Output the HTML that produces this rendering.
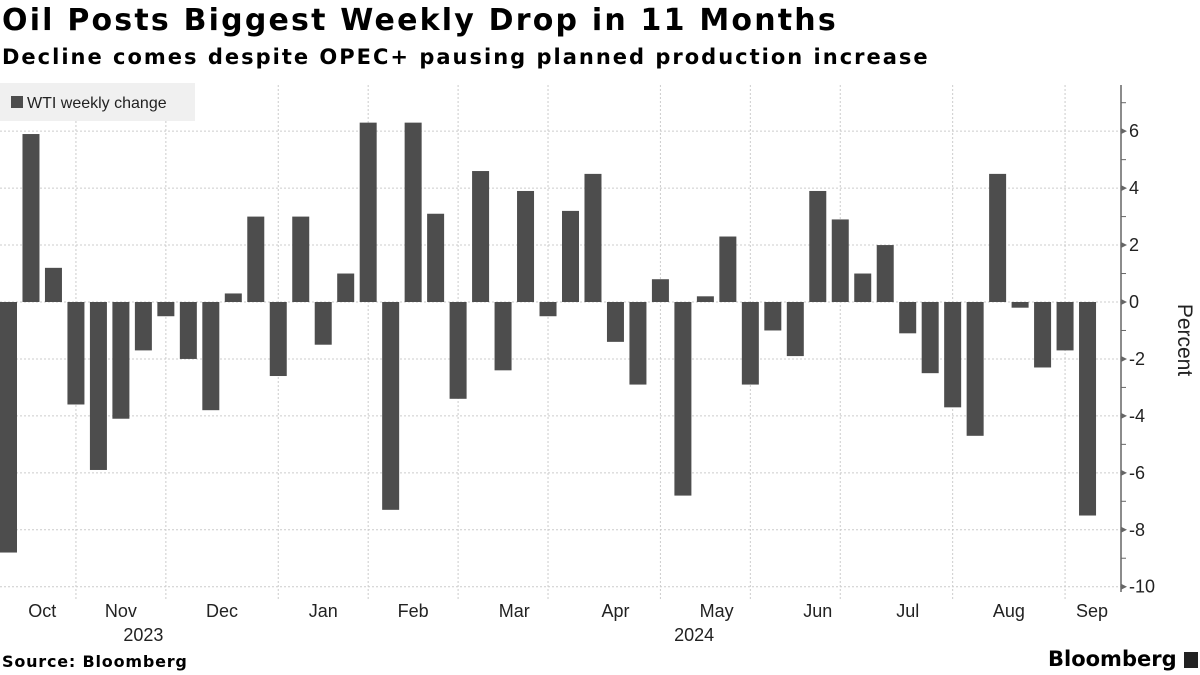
<!DOCTYPE html>
<html><head><meta charset="utf-8"><style>
body{margin:0;width:1200px;height:675px;background:#fff;font-family:"Liberation Sans",sans-serif;overflow:hidden;position:relative}
.t{position:absolute;white-space:nowrap}
</style></head><body>
<div class="t" style="left:2px;top:3px;font-size:30px;letter-spacing:2.2px;font-weight:bold;font-family:'DejaVu Sans',sans-serif;color:#000">Oil Posts Biggest Weekly Drop in 11 Months</div>
<div class="t" style="left:2px;top:45px;font-size:21px;letter-spacing:2px;font-weight:bold;font-family:'DejaVu Sans',sans-serif;color:#000">Decline comes despite OPEC+ pausing planned production increase</div>
<svg id="c" width="1200" height="675" style="position:absolute;left:0;top:0"></svg>
<div class="t" style="left:2px;top:652px;font-size:16px;letter-spacing:0.8px;font-weight:bold;font-family:'DejaVu Sans',sans-serif">Source: Bloomberg</div>
<div class="t" style="left:1048px;top:647px;font-size:21px;font-weight:bold;font-family:'DejaVu Sans',sans-serif">Bloomberg <span style="display:inline-block;width:14px;height:16px;background:#222;vertical-align:-2px"></span></div>
<script>
const values=[-8.8,5.9,1.2,-3.6,-5.9,-4.1,-1.7,-0.5,-2.0,-3.8,0.3,3.0,-2.6,3.0,-1.5,1.0,6.3,-7.3,6.3,3.1,-3.4,4.6,-2.4,3.9,-0.5,3.2,4.5,-1.4,-2.9,0.8,-6.8,0.2,2.3,-2.9,-1.0,-1.9,3.9,2.9,1.0,2.0,-1.1,-2.5,-3.7,-4.7,4.5,-0.2,-2.3,-1.7,-7.5];
const yTicks=[6,4,2,0,-2,-4,-6,-8,-10];
const monthLabels=["Oct","Nov","Dec","Jan","Feb","Mar","Apr","May","Jun","Jul","Aug","Sep"];
const monthIdx=[1.5,5,9.5,14,18,22.5,27,31.5,36,40,44.5,48.2];
const gridIdx=[3,7,12,16,20,24,29,33,37,42,47];
const yearLabels=[["2023",6],["2024",30.5]];
const svg=document.getElementById('c'),NS='http://www.w3.org/2000/svg';
const x0=8.5,step=22.48,bw=17,zeroY=302,unit=28.47,plotTop=85,plotBot=592,axX=1121;
const X=i=>x0+i*step, Y=v=>zeroY-v*unit;
function mk(t,a){const e=document.createElementNS(NS,t);for(const k in a)e.setAttribute(k,a[k]);svg.appendChild(e);return e;}
yTicks.forEach(v=>{const l=mk('line',{x1:0,x2:axX,y1:Y(v),y2:Y(v),stroke:'#ccc','stroke-dasharray':'2,2'});

});
gridIdx.forEach(i=>{const l=mk('line',{x1:X(i),x2:X(i),y1:plotTop,y2:plotBot+8,stroke:'#ccc','stroke-dasharray':'2,2'});

});
values.forEach((v,i)=>{const r=mk('rect',{x:X(i)-bw/2,width:bw,y:Math.min(Y(v),zeroY),height:Math.abs(Y(v)-zeroY),fill:'#4d4d4d'});

});
const ax=mk('line',{x1:axX,x2:axX,y1:plotTop,y2:plotBot,stroke:'#666','stroke-width':1.5});


for(let v=-9;v<=7;v+=2){mk('line',{x1:axX,x2:axX+5,y1:Y(v),y2:Y(v),stroke:'#666'});}
yTicks.forEach(v=>{mk('path',{d:`M${axX} ${Y(v)-3}L${axX+6} ${Y(v)}L${axX} ${Y(v)+3}Z`,fill:'#666'});
const t=mk('text',{x:axX+8,y:Y(v)+6,'font-size':18,fill:'#222'});t.textContent=v<0?'-'+Math.abs(v):v;

});
const pt=mk('text',{x:1178,y:340,'font-size':21,fill:'#222','text-anchor':'middle',transform:'rotate(90 1178 340)'});pt.textContent='Percent';


monthLabels.forEach((m,k)=>{const t=mk('text',{x:X(monthIdx[k]),y:617,'font-size':18,fill:'#222','text-anchor':'middle'});t.textContent=m;

});
yearLabels.forEach(([s,i])=>{const t=mk('text',{x:X(i),y:641,'font-size':18,fill:'#222','text-anchor':'middle'});t.textContent=s;

});
const lg=mk('rect',{x:0,y:83,width:195,height:38,fill:'#f0f0f0'});


mk('rect',{x:11,y:96,width:12,height:12,fill:'#4d4d4d'});
const lt=mk('text',{x:27,y:108,'font-size':16,fill:'#222'});lt.textContent='WTI weekly change';


</script>
</body></html>
